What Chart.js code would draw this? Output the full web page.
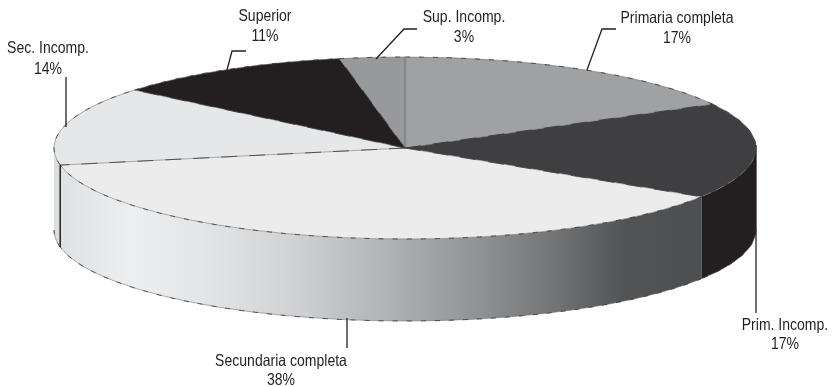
<!DOCTYPE html>
<html>
<head>
<meta charset="utf-8">
<style>
  html, body { margin: 0; padding: 0; background: #fff; }
  canvas { display: block; }
</style>
<script src="https://cdn.jsdelivr.net/npm/chart.js@4/dist/chart.umd.js"></script>
</head>
<body>
<canvas id="pie" width="833" height="387"></canvas>
<script>
const categories = ['Primaria completa', 'Prim. Incomp.', 'Secundaria completa', 'Sec. Incomp.', 'Superior', 'Sup. Incomp.'];
const values = [17, 17, 38, 14, 11, 3];
const topColors = ['#a0a1a3', '#3f3f41', '#ececed', '#e6e7e8', '#231f20', '#98999b'];

// label centre x, first baseline, second baseline, then the leader line
const callouts = [
    { x: 677, y1: 23, y2: 43, line: [[587, 70], [602, 29], [616, 29]] },
    { x: 785, y1: 330, y2: 349, line: [[756, 145], [756, 313]] },
    { x: 281, y1: 366, y2: 385, line: [[347, 318], [347, 348]] },
    { x: 48, y1: 53, y2: 74, line: [[66, 77], [66, 127]] },
    { x: 265, y1: 21, y2: 41, line: [[227, 70], [232, 51], [246, 51]] },
    { x: 464, y1: 22, y2: 42, line: [[376, 59], [404, 29], [417, 29]] }
];

const radius = 91;     // vertical radius of the top face
const stretchX = 351 / radius;
const depth = 82;

function wallFill(ctx, i) {
    if (i === 1) return '#231f20';
    if (i === 3) return '#dcddde';
    const g = ctx.createLinearGradient(55, 0, 757, 0);
    g.addColorStop(0, '#dfe0e1');
    g.addColorStop(0.11, '#edeeef');
    g.addColorStop(0.21, '#e4e5e7');
    g.addColorStop(0.35, '#cfd0d2');
    g.addColorStop(0.49, '#adaeb0');
    g.addColorStop(0.61, '#8f9092');
    g.addColorStop(0.72, '#707173');
    g.addColorStop(0.81, '#525355');
    g.addColorStop(1, '#4b4c4e');
    return g;
}

// soft grey line with darker broken line on top, like the printed edges
function roughStroke(ctx, dash) {
    ctx.strokeStyle = 'rgba(110,110,112,0.55)';
    ctx.lineWidth = 1;
    ctx.stroke();
    ctx.strokeStyle = 'rgba(35,31,32,0.75)';
    ctx.lineWidth = 0.9;
    ctx.setLineDash(dash);
    ctx.stroke();
    ctx.setLineDash([]);
}

const tiltPlugin = {
    id: 'tilt',
    beforeDatasetsDraw(chart) {
        const ctx = chart.ctx;
        const arcs = chart.getDatasetMeta(0).data;
        arcs.forEach((arc, i) => {
            const a0 = Math.max(arc.startAngle, 0);
            const a1 = Math.min(arc.endAngle, Math.PI);
            if (a1 <= a0) return;
            const rx = arc.outerRadius * stretchX;
            ctx.beginPath();
            ctx.ellipse(arc.x, arc.y, rx, arc.outerRadius, 0, a0, a1);
            ctx.ellipse(arc.x, arc.y + depth, rx, arc.outerRadius, 0, a1, a0, true);
            ctx.closePath();
            ctx.fillStyle = wallFill(ctx, i);
            ctx.fill();
            // bottom rim
            ctx.beginPath();
            ctx.ellipse(arc.x, arc.y + depth, rx, arc.outerRadius, 0, a0, a1);
            roughStroke(ctx, [5, 9]);
        });
        const first = arcs[0];
        ctx.save();
        ctx.translate(first.x, 0);
        ctx.scale(stretchX, 1);
        ctx.translate(-first.x, 0);
    },
    afterDatasetsDraw(chart) {
        const ctx = chart.ctx;
        ctx.restore();
        const arcs = chart.getDatasetMeta(0).data;
        // slice edges, drawn here so the stretch does not thicken them
        arcs.forEach((arc, i) => {
            const rx = arc.outerRadius * stretchX;
            ctx.beginPath();
            ctx.ellipse(arc.x, arc.y, rx, arc.outerRadius, 0, arc.startAngle, arc.endAngle);
            roughStroke(ctx, [5, 9]);
            ctx.beginPath();
            ctx.moveTo(arc.x, arc.y);
            ctx.lineTo(arc.x + rx * Math.cos(arc.startAngle), arc.y + arc.outerRadius * Math.sin(arc.startAngle));
            if (i === 0) {
                ctx.strokeStyle = '#87888a';
                ctx.lineWidth = 2.5;
                ctx.stroke();
            } else {
                roughStroke(ctx, [16, 12]);
            }
        });
        // dark corner where the wall changes slice on the left
        const left = arcs[3];
        const lx = left.x + left.outerRadius * stretchX * Math.cos(left.startAngle);
        const ly = left.y + left.outerRadius * Math.sin(left.startAngle);
        ctx.beginPath();
        ctx.moveTo(lx, ly);
        ctx.lineTo(lx, ly + depth);
        ctx.strokeStyle = '#2b2b2b';
        ctx.lineWidth = 1.6;
        ctx.stroke();
    },
    afterDraw(chart) {
        const ctx = chart.ctx;
        ctx.save();
        ctx.font = '16.5px "Liberation Sans", sans-serif';
        ctx.textAlign = 'center';
        ctx.textBaseline = 'alphabetic';
        ctx.fillStyle = '#231f20';
        ctx.strokeStyle = '#231f20';
        ctx.lineWidth = 1.3;
        callouts.forEach((c, i) => {
            ctx.beginPath();
            c.line.forEach((p, j) => j === 0 ? ctx.moveTo(p[0], p[1]) : ctx.lineTo(p[0], p[1]));
            ctx.stroke();
            // narrow lettering: squeeze the regular face sideways
            [[categories[i], c.y1], [values[i] + '%', c.y2]].forEach(([txt, y]) => {
                ctx.save();
                ctx.translate(c.x, y);
                ctx.scale(0.85, 1);
                ctx.fillText(txt, 0, 0);
                ctx.restore();
            });
        });
        ctx.restore();
    }
};

new Chart(document.getElementById('pie').getContext('2d'), {
    type: 'pie',
    data: {
        labels: categories,
        datasets: [{
            data: values,
            backgroundColor: topColors,
            borderWidth: 0,
            radius: radius,
            clip: false
        }]
    },
    options: {
        responsive: false,
        animation: false,
        layout: { padding: { left: 0, right: 23, top: 0, bottom: 91 } },
        plugins: { legend: { display: false }, tooltip: { enabled: false } }
    },
    plugins: [tiltPlugin]
});
</script>
</body>
</html>
